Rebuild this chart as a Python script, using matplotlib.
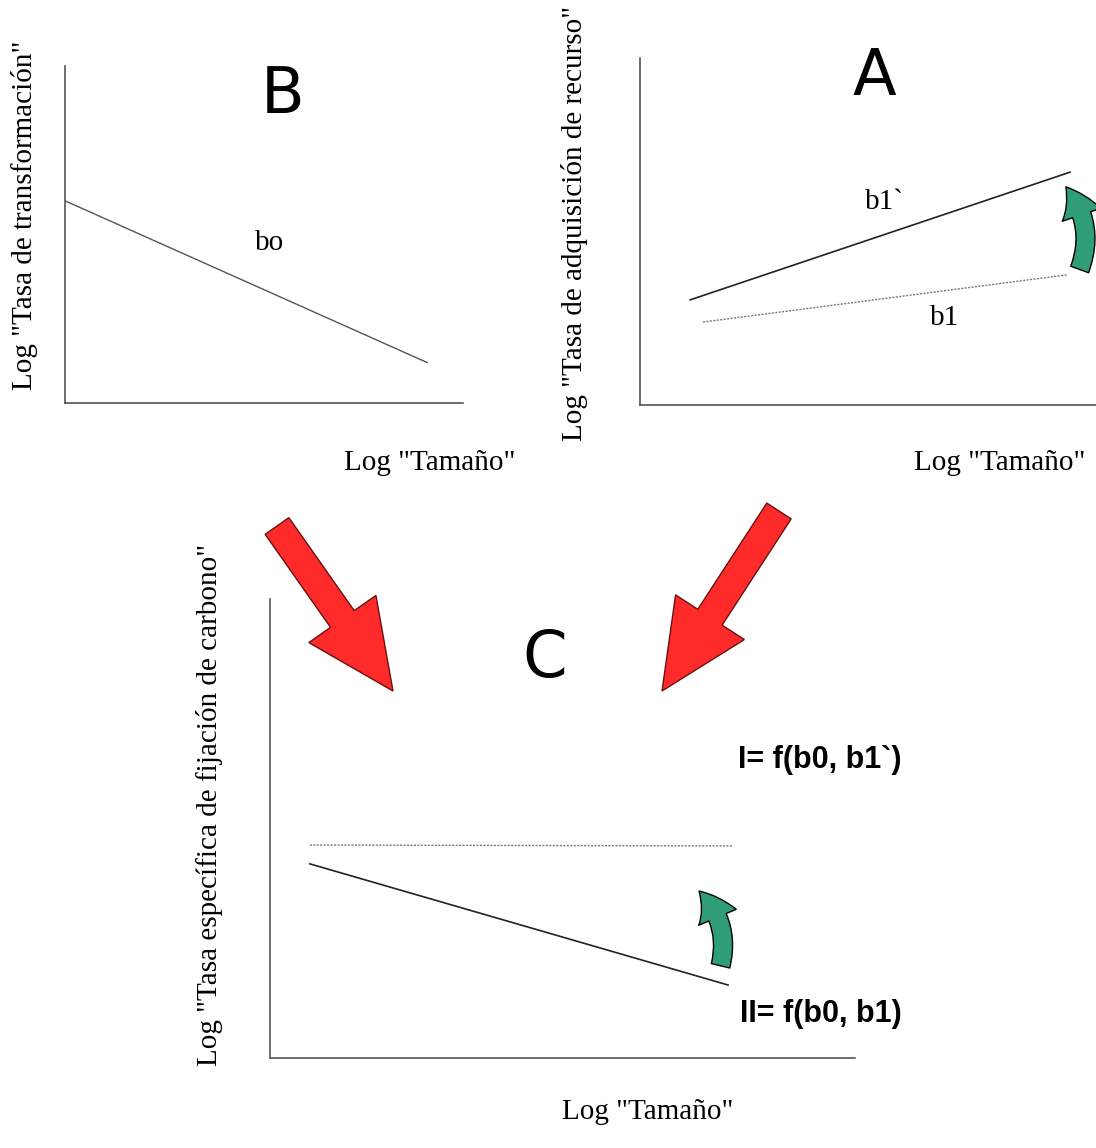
import matplotlib
matplotlib.use("Agg")
import matplotlib.pyplot as plt
from matplotlib.patches import FancyArrow, FancyArrowPatch

W, H = 1096, 1148

# panel B: transformation rate
b_x = [0.0, 9.1]
b_y = [6.0, 1.2]
# panel A: resource acquisition
a1p_x = [1.1, 9.43]
a1p_y = [3.03, 6.71]
a1_x = [1.38, 9.36]
a1_y = [2.39, 3.75]
# panel C: carbon fixation
c1_x = [0.68, 7.91]
c1_y = [4.64, 4.62]
c2_x = [0.68, 7.83]
c2_y = [4.23, 1.59]

serif = "Liberation Serif"
lab_size = 21


def panel(left, top, right, bottom):
    ax = fig.add_axes([left / W, 1 - bottom / H, (right - left) / W, (bottom - top) / H])
    ax.set_xlim(0, 10)
    ax.set_ylim(0, 10)
    ax.set_xticks([])
    ax.set_yticks([])
    for s in ["top", "right"]:
        ax.spines[s].set_visible(False)
    for s in ["left", "bottom"]:
        ax.spines[s].set_color("#555555")
        ax.spines[s].set_linewidth(1.2)
    ax.patch.set_visible(False)
    return ax


def green_arrow(ax, tail, tip):
    p = FancyArrowPatch(tail, tip, connectionstyle="arc3,rad=0.3",
                        arrowstyle="simple,head_length=1.1,head_width=1.4,tail_width=0.65",
                        mutation_scale=21, fc="#2f9e77", ec="black", lw=1)
    ax.add_patch(p)


fig = plt.figure(figsize=(W / 100, H / 100), dpi=100)

# B
axB = panel(65, 66, 463, 403)
axB.plot(b_x, b_y, color="#555555", lw=1)
axB.text(5.15, 4.75, "bo", fontsize=lab_size, family=serif, ha="center", va="center")
axB.text(5.48, 9.15, "B", fontsize=46, ha="center", va="center")

# A
axA = panel(640, 58, 1096, 405)
axA.plot(a1p_x, a1p_y, color="#222222", lw=1.2)
axA.plot(a1_x, a1_y, color="#777777", lw=1, ls=(0, (1.5, 1)))
axA.text(5.37, 5.85, "b1`", fontsize=lab_size, family=serif, ha="center", va="center")
axA.text(6.69, 2.5, "b1", fontsize=lab_size, family=serif, ha="center", va="center")
axA.text(5.15, 9.45, "A", fontsize=46, ha="center", va="center")
green_arrow(axA, (9.62, 3.83), (9.3, 6.35))

# C
axC = panel(270, 599, 855, 1058)
axC.plot(c1_x, c1_y, color="#777777", lw=1, ls=(0, (1.5, 1)))
axC.plot(c2_x, c2_y, color="#222222", lw=1.2)
axC.text(4.7, 8.69, "C", fontsize=46, ha="center", va="center")
axC.text(8.0, 6.49, "I= f(b0, b1`)", fontsize=22, fontweight="bold",
         family="Liberation Sans", ha="left", va="center", clip_on=False)
axC.text(8.03, 0.95, "II= f(b0, b1)", fontsize=22, fontweight="bold",
         family="Liberation Sans", ha="left", va="center", clip_on=False)
green_arrow(axC, (7.69, 1.95), (7.3, 3.68))

# axis labels
def ftext(x, y, s, rot=0):
    fig.text(x / W, 1 - y / H, s, fontsize=lab_size, family=serif,
             ha="center", va="center", rotation=rot)

ftext(25, 215, 'Log "Tasa de transformación"', 90)
ftext(430, 463, 'Log "Tamaño"')
ftext(575, 223, 'Log "Tasa de adquisición de recurso"', 90)
ftext(1000, 463, 'Log "Tamaño"')
ftext(210, 805, 'Log "Tasa específica de fijación de carbono"', 90)
ftext(648, 1112, 'Log "Tamaño"')

# red arrows in pixel space
ov = fig.add_axes([0, 0, 1, 1])
ov.set_xlim(0, W)
ov.set_ylim(H, 0)
ov.axis("off")
for (x0, y0), (x1, y1) in [((277, 526), (393, 691)), ((779, 511), (662, 691))]:
    ov.add_patch(FancyArrow(x0, y0, x1 - x0, y1 - y0, width=29, head_width=82,
                            head_length=88, length_includes_head=True,
                            fc="#ff2a2a", ec="#6a1010", lw=1))

plt.savefig("out.png", dpi=100)
